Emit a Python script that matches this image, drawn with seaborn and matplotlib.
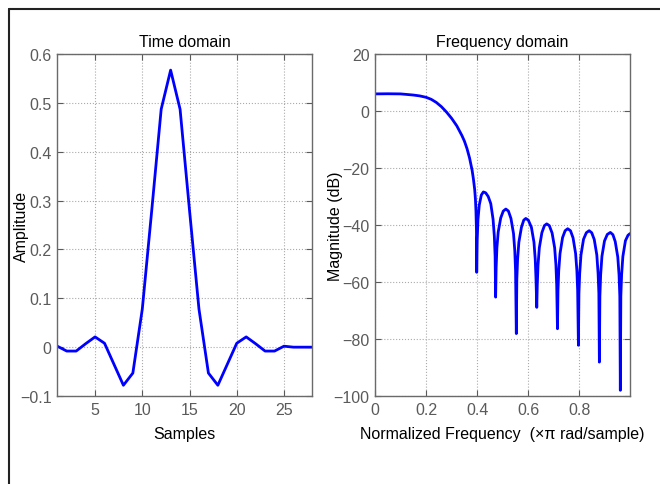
import numpy as np
import matplotlib
matplotlib.use('Agg')
import matplotlib.pyplot as plt
import seaborn as sns
from matplotlib.lines import Line2D

# Time domain: impulse response (samples 1..28)
samples = list(range(1, 29))
amplitude = [0.002, -0.008, -0.008, 0.007, 0.021, 0.008, -0.035, -0.078,
             -0.053, 0.078, 0.28, 0.487, 0.567, 0.487, 0.28, 0.078,
             -0.053, -0.078, -0.035, 0.008, 0.021, 0.007, -0.008, -0.008,
             0.002, 0.0, 0.0, 0.0]

# Frequency domain: magnitude (dB)
freq = [0.00, 0.05, 0.10, 0.15, 0.175, 0.20, 0.22, 0.24, 0.26, 0.28, 0.30, 0.32, 0.34, 0.35,
        0.36, 0.37, 0.38, 0.385, 0.39, 0.393, 0.395, 0.397, 0.398,
        0.400, 0.403, 0.408, 0.416, 0.424, 0.433, 0.443, 0.453, 0.462, 0.467, 0.470, 0.472,
        0.474, 0.477, 0.482, 0.492, 0.502, 0.512, 0.522, 0.532, 0.542, 0.547, 0.550, 0.553,
        0.555, 0.558, 0.563, 0.573, 0.582, 0.590, 0.600, 0.612, 0.622, 0.627, 0.630, 0.633,
        0.635, 0.638, 0.643, 0.653, 0.663, 0.672, 0.682, 0.693, 0.703, 0.708, 0.711, 0.714,
        0.716, 0.719, 0.724, 0.734, 0.744, 0.754, 0.765, 0.775, 0.785, 0.790, 0.793, 0.796,
        0.798, 0.801, 0.806, 0.816, 0.827, 0.838, 0.848, 0.858, 0.868, 0.873, 0.876, 0.878,
        0.880, 0.883, 0.888, 0.898, 0.909, 0.921, 0.931, 0.940, 0.950, 0.955, 0.958, 0.960,
        0.962, 0.965, 0.970, 0.980, 0.990, 0.998]
mag_db = [6.0, 6.05, 6.0, 5.6, 5.3, 4.8, 4.1, 3.0, 1.5, -0.4, -2.6, -5.2, -8.6, -10.6,
          -13.2, -16.5, -20.8, -23.8, -27.5, -31.0, -35.0, -42.0, -56.6,
          -45.0, -38.0, -33.0, -29.5, -28.4, -28.7, -30.0, -32.5, -38.0, -44.0, -51.0, -65.3,
          -55.0, -48.0, -42.5, -37.5, -35.1, -34.4, -35.1, -37.7, -43.0, -49.0, -56.0, -78.1,
          -59.0, -52.0, -46.0, -40.8, -38.3, -37.7, -38.3, -40.8, -46.0, -52.0, -59.0, -68.9,
          -61.0, -54.0, -48.0, -42.7, -40.2, -39.6, -40.2, -42.8, -48.0, -54.0, -61.0, -76.4,
          -63.0, -56.0, -50.0, -44.4, -42.0, -41.3, -42.0, -44.5, -50.0, -56.0, -63.0, -82.2,
          -64.0, -57.0, -50.5, -45.0, -42.7, -42.0, -42.7, -45.1, -50.5, -57.0, -64.0, -88.1,
          -65.0, -57.5, -51.0, -45.6, -43.3, -42.6, -43.4, -45.8, -51.2, -57.5, -65.0, -98.0,
          -65.0, -57.5, -51.0, -45.5, -43.6, -43.0]

time_xticks = [5, 10, 15, 20, 25]
time_yticks = [-0.1, 0, 0.1, 0.2, 0.3, 0.4, 0.5, 0.6]
freq_xticks = [0, 0.2, 0.4, 0.6, 0.8]
freq_yticks = [-100, -80, -60, -40, -20, 0, 20]

sns.set_theme(style='white')
plt.rcParams['font.family'] = ['Liberation Sans', 'DejaVu Sans']
plt.rcParams['axes.unicode_minus'] = True

fs = 11.5
tick_gray = '#5a5a5a'
fig = plt.figure(figsize=(6.6, 4.85), dpi=100)
ax1 = fig.add_axes([0.0868, 0.1814, 0.3864, 0.7052])
ax2 = fig.add_axes([0.5682, 0.1814, 0.3864, 0.7052])

sns.lineplot(x=samples, y=amplitude, ax=ax1, color='#0000ff', linewidth=2)
sns.lineplot(x=freq, y=mag_db, ax=ax2, color='#0000ff', linewidth=2)

ax1.set_xlim(1, 28)
ax1.set_ylim(-0.1, 0.6)
ax1.set_xticks(time_xticks)
ax1.set_yticks(time_yticks)
ax1.set_yticklabels(['\u22120.1', '0', '0.1', '0.2', '0.3', '0.4', '0.5', '0.6'])
ax1.set_title('Time domain', fontsize=fs, color='black', pad=6)
ax1.set_xlabel('Samples', fontsize=fs, color='black')
ax1.set_ylabel('Amplitude', fontsize=fs, color='black')

ax2.set_xlim(0, 0.998)
ax2.set_ylim(-100, 20)
ax2.set_xticks(freq_xticks)
ax2.set_xticklabels(['0', '0.2', '0.4', '0.6', '0.8'])
ax2.set_yticks(freq_yticks)
ax2.set_yticklabels(['\u2212100', '\u221280', '\u221260', '\u221240', '\u221220', '0', '20'])
ax2.set_title('Frequency domain', fontsize=fs, color='black', pad=6)
ax2.set_xlabel('Normalized Frequency  (\u00d7\u03c0 rad/sample)', fontsize=fs, color='black')
ax2.set_ylabel('Magnitude (dB)', fontsize=fs, color='black')

for ax in (ax1, ax2):
    ax.grid(True, linestyle=':', color='#aaaaaa', linewidth=0.8)
    ax.tick_params(direction='in', length=4, width=0.8, colors=tick_gray,
                   labelsize=fs, top=True, right=True, bottom=True, left=True,
                   labelcolor=tick_gray, pad=4)
    for sp in ax.spines.values():
        sp.set_visible(True)
        sp.set_color('#6a6a6a')
        sp.set_linewidth(1.0)
    ax.xaxis.labelpad = 7

ax1.yaxis.set_label_coords(-0.11, 0.5)
# nudged a few px left of the reference so it clears the tick labels
ax2.yaxis.set_label_coords(-0.125, 0.5)

# figure frame (top and left edges visible)
fig.add_artist(Line2D([8.5 / 660, 8.5 / 660], [0, 1 - 10 / 485], transform=fig.transFigure,
                      color='#222222', linewidth=1.5))
fig.add_artist(Line2D([8.5 / 660, 1], [1 - 10 / 485, 1 - 10 / 485], transform=fig.transFigure,
                      color='#222222', linewidth=1.5))

fig.savefig('out.png', dpi=100, facecolor='white')
